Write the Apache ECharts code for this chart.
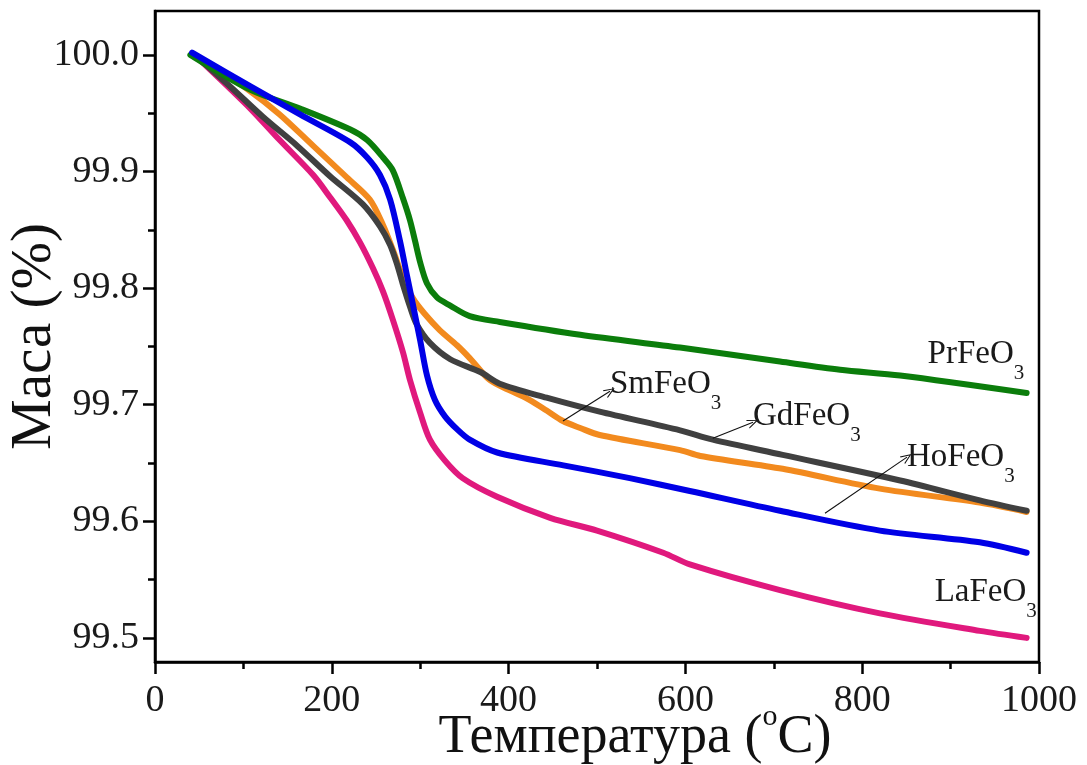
<!DOCTYPE html>
<html>
<head>
<meta charset="utf-8">
<script src="https://cdn.jsdelivr.net/npm/echarts@6/dist/echarts.min.js"></script>
<style>
  html, body { margin: 0; padding: 0; background: #fff; }
  #chart { width: 1087px; height: 765px; }
</style>
</head>
<body>
<div id="chart"></div>
<script>
// ---- data (temperature °C, mass %) ----
const prT = [40, 108, 164, 221, 240, 258, 269, 280.5, 288.5, 294, 300, 307.7, 319, 334, 356, 390, 481, 594, 707, 775, 843, 986];
const prM = [100.000, 99.970, 99.954, 99.936, 99.927, 99.912, 99.901, 99.877, 99.858, 99.841, 99.822, 99.804, 99.792, 99.785, 99.776, 99.771, 99.760, 99.749, 99.737, 99.730, 99.725, 99.710];

const hoT = [42, 108, 164, 221, 240, 254.5, 266, 277, 285, 292, 300, 307.7, 316.7, 328, 341.6, 356, 387, 462, 537, 605, 707, 820, 933, 986];
const hoM = [100.002, 99.973, 99.949, 99.925, 99.912, 99.897, 99.876, 99.841, 99.811, 99.785, 99.755, 99.725, 99.704, 99.690, 99.679, 99.670, 99.659, 99.648, 99.637, 99.626, 99.609, 99.592, 99.582, 99.573];

const laT = [45, 104, 141, 179, 198, 217, 232, 246.6, 258, 269, 280.5, 288.5, 300, 311, 328, 348, 387, 447, 500, 575, 605, 707, 820, 933, 986];
const laM = [100.000, 99.957, 99.927, 99.897, 99.878, 99.858, 99.839, 99.817, 99.797, 99.773, 99.745, 99.721, 99.693, 99.670, 99.652, 99.637, 99.621, 99.603, 99.592, 99.573, 99.563, 99.541, 99.521, 99.506, 99.500];

const gdT = [45, 85, 122, 161, 198, 235, 254.5, 266, 274, 280.5, 288.5, 296, 311, 334, 368, 390, 443, 503, 594, 631, 710, 843, 933, 986];
const gdM = [100.000, 99.973, 99.947, 99.922, 99.896, 99.872, 99.853, 99.837, 99.820, 99.803, 99.784, 99.769, 99.753, 99.739, 99.728, 99.718, 99.706, 99.694, 99.678, 99.670, 99.657, 99.635, 99.618, 99.609];

const smT = [45, 66, 104, 141, 179, 217, 243, 258, 269, 280.5, 292, 305, 322, 341.6, 356, 379, 405, 424, 443, 461.5, 481, 503, 594, 617, 710, 820, 933, 986];
const smM = [100.000, 99.990, 99.971, 99.949, 99.922, 99.895, 99.876, 99.854, 99.833, 99.809, 99.791, 99.778, 99.764, 99.751, 99.740, 99.721, 99.711, 99.704, 99.695, 99.686, 99.680, 99.674, 99.661, 99.656, 99.645, 99.628, 99.616, 99.608];

const xTicks = [0, 200, 400, 600, 800, 1000];
const yTicks = [99.5, 99.6, 99.7, 99.8, 99.9, 100.0];
const yMinorTicks = [99.55, 99.65, 99.75, 99.85, 99.95];

const names = ['PrFeO', 'HoFeO', 'LaFeO', 'GdFeO', 'SmFeO'];

function pairs(t, m) { return t.map((v, i) => [v, m[i]]); }

const serif = "'Liberation Serif', 'Times New Roman', 'DejaVu Serif', serif";
const labelRich = {
  m: { fontFamily: serif, fontSize: 33, lineHeight: 60, color: '#1a1a1a', verticalAlign: 'middle' },
  s: { fontFamily: serif, fontSize: 21, lineHeight: 20, color: '#1a1a1a', verticalAlign: 'bottom' }
};
function chemLabel(name, t, m) {
  return {
    coord: [t, m],
    symbol: 'circle',
    symbolSize: 0,
    label: {
      show: true,
      position: 'right',
      distance: 0,
      formatter: '{m|' + name + '}{s|3}',
      rich: labelRich
    }
  };
}
const chevron = 'path://M5,0 L10,11 L8.8,11 L5,2.6 L1.2,11 L0,11 Z';
function arrow(x1, y1, x2, y2) {
  return [{ coord: [x1, y1] }, { coord: [x2, y2] }];
}

function lineSeries(name, data, color, z, extra) {
  return Object.assign({
    name: name,
    type: 'line',
    data: data,
    showSymbol: false,
    smooth: 0.3,
    z: z,
    lineStyle: { color: color, width: 6, cap: 'round', join: 'round' },
    itemStyle: { color: color },
    silent: true
  }, extra || {});
}

const chart = echarts.init(document.getElementById('chart'), null, { renderer: 'canvas' });

const option = {
  animation: false,
  backgroundColor: '#ffffff',
  grid: {
    left: 155, right: 48, top: 11, bottom: 103,
    containLabel: false,
    outerBoundsMode: 'none',
    show: true, borderColor: '#000', borderWidth: 2.5, backgroundColor: 'transparent'
  },
  xAxis: {
    type: 'value',
    min: 0, max: 1000, interval: 200,
    name: '{a|Температура (}{o|o}{a|C)}',
    nameLocation: 'middle',
    nameGap: 46,
    nameMoveOverlap: false,
    nameTextStyle: {
      padding: [0, 0, 0, 76],
      rich: {
        a: { fontFamily: serif, fontSize: 54, lineHeight: 60, color: '#111' },
        o: { fontFamily: serif, fontSize: 30, lineHeight: 60, color: '#111', verticalAlign: 'top', padding: [-6, 0, 0, 0] }
      }
    },
    axisLine: { show: true, lineStyle: { color: '#000', width: 2.5 } },
    axisTick: { show: true, inside: false, length: 12, lineStyle: { color: '#000', width: 2.5 } },
    minorTick: { show: true, splitNumber: 2, length: 7, lineStyle: { color: '#000', width: 2.5 } },
    splitLine: { show: false },
    axisLabel: {
      margin: 20,
      fontFamily: serif, fontSize: 38, color: '#1a1a1a',
      formatter: v => xTicks.indexOf(v) >= 0 ? String(v) : ''
    }
  },
  yAxis: [{
    type: 'value',
    min: 99.4793, max: 100.0377,
    name: 'Маса (%)',
    nameLocation: 'middle',
    nameGap: 90,
    nameRotate: 90,
    nameMoveOverlap: false,
    nameTextStyle: { fontFamily: serif, fontSize: 57, lineHeight: 60, color: '#111' },
    axisLine: { show: true, lineStyle: { color: '#000', width: 2.5 } },
    axisTick: { show: true, inside: false, length: 12, customValues: yTicks, lineStyle: { color: '#000', width: 2.5 } },
    splitLine: { show: false },
    axisLabel: {
      margin: 16,
      customValues: yTicks,
      fontFamily: serif, fontSize: 38, color: '#1a1a1a',
      formatter: v => v.toFixed(1)
    }
  }, {
    type: 'value',
    position: 'left',
    min: 99.4793, max: 100.0377,
    axisLine: { show: false },
    axisTick: { show: true, inside: false, length: 7, customValues: yMinorTicks, lineStyle: { color: '#000', width: 2.5 } },
    axisLabel: { show: false },
    splitLine: { show: false }
  }],
  series: [
    lineSeries('LaFeO3', pairs(laT, laM), '#e0197d', 2, {
      markPoint: { silent: true, data: [chemLabel(names[2], 882, 99.539)] }
    }),
    lineSeries('SmFeO3', pairs(smT, smM), '#f28a1e', 3, {
      markPoint: { silent: true, data: [chemLabel(names[4], 514.7, 99.7176)] },
      markLine: {
        silent: true, symbol: ['none', chevron], symbolSize: [9, 11],
        label: { show: false },
        lineStyle: { color: '#111', width: 1.1, type: 'solid' },
        data: [arrow(461.5, 99.686, 514.7, 99.7116)]
      }
    }),
    lineSeries('GdFeO3', pairs(gdT, gdM), '#404040', 4, {
      markPoint: { silent: true, data: [chemLabel(names[3], 676.5, 99.690)] },
      markLine: {
        silent: true, symbol: ['none', chevron], symbolSize: [9, 11],
        label: { show: false },
        lineStyle: { color: '#111', width: 1.1, type: 'solid' },
        data: [arrow(631, 99.6712, 676.5, 99.685)]
      }
    }),
    lineSeries('PrFeO3', pairs(prT, prM), '#0b7d0b', 5, {
      markPoint: { silent: true, data: [chemLabel(names[0], 874, 99.7433)] }
    }),
    lineSeries('HoFeO3', pairs(hoT, hoM), '#0000e6', 6, {
      markPoint: { silent: true, data: [chemLabel(names[1], 850.7, 99.655)] },
      markLine: {
        silent: true, symbol: ['none', chevron], symbolSize: [9, 11],
        label: { show: false },
        lineStyle: { color: '#111', width: 1.1, type: 'solid' },
        data: [arrow(757.9, 99.6069, 850.7, 99.655)]
      }
    })
  ]
};
chart.setOption(option);
</script>
</body>
</html>
